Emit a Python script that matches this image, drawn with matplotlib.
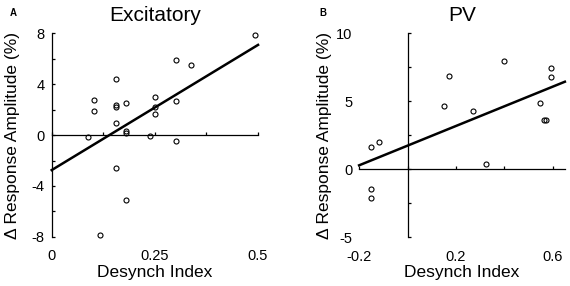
import numpy as np
import matplotlib
matplotlib.use("Agg")
import matplotlib.pyplot as plt

plt.rcParams['font.family'] = ['Liberation Sans', 'DejaVu Sans']

# Excitatory panel
exc_x = [0.493, 0.301, 0.337, 0.155, 0.102, 0.102, 0.155, 0.155, 0.180, 0.251, 0.251,
         0.251, 0.301, 0.155, 0.180, 0.180, 0.087, 0.237, 0.301, 0.155, 0.180, 0.117]
exc_y = [7.9, 5.9, 5.5, 4.4, 2.8, 1.9, 2.4, 2.2, 2.5, 3.0, 2.2,
         1.7, 2.7, 0.97, 0.3, 0.15, -0.13, -0.08, -0.45, -2.6, -5.1, -7.85]
exc_fit_x = [0.0, 0.5]
exc_fit_y = [-2.75, 7.1]

# PV panel
pv_x = [0.399, 0.592, 0.592, 0.170, 0.150, 0.272, 0.546, 0.564, 0.570,
        -0.116, -0.150, 0.326, -0.150, -0.150]
pv_y = [8.0, 7.45, 6.8, 6.85, 4.7, 4.3, 4.9, 3.6, 3.6,
        2.03, 1.64, 0.39, -1.45, -2.1]
pv_fit_x = [-0.2, 0.65]
pv_fit_y = [0.3, 6.45]

fig = plt.figure(figsize=(5.7, 2.86), dpi=100)


def panel(rect, xs, ys, fx, fy, xlim, ylim, xticks, xlabels, yticks_minor, yticks, title, letter, letter_x, ylab_x):
    ax = fig.add_axes(rect)
    ax.plot(xs, ys, 'o', mfc='none', mec='black', ms=3.6, mew=0.8, clip_on=False)
    ax.plot(fx, fy, '-', color='black', lw=1.8, clip_on=False)
    ax.set_xlim(xlim)
    ax.set_ylim(ylim)
    for s in ['top', 'right']:
        ax.spines[s].set_visible(False)
    ax.spines['left'].set_position(('data', 0))
    ax.spines['bottom'].set_position(('data', 0))
    ax.spines['left'].set_linewidth(0.9)
    ax.spines['bottom'].set_linewidth(0.9)
    ax.set_xticks(xticks)
    ax.set_yticks(yticks_minor)
    ax.tick_params(direction='in', length=2.5, width=0.9, labelleft=False, labelbottom=False)
    ax.patch.set_alpha(0)

    # tick labels shown at the outer edges
    sx = ax.secondary_xaxis(0)
    sx.spines['bottom'].set_visible(False)
    sx.set_xticks(xlabels)
    sx.set_xticklabels([('%g' % v) for v in xlabels])
    sx.tick_params(length=0, pad=9, labelsize=10.5)
    sx.set_xlabel('Desynch Index', fontsize=12.5, labelpad=1)

    sy = ax.secondary_yaxis(0)
    sy.spines['left'].set_visible(False)
    sy.set_yticks(yticks)
    sy.set_yticklabels([('%g' % v) for v in yticks])
    sy.tick_params(length=0, pad=5, labelsize=10.5)

    fig.text(ylab_x, rect[1] + rect[3] / 2, 'Δ Response Amplitude (%)', rotation=90,
             ha='center', va='center', fontsize=12.5)
    fig.text(rect[0] + rect[2] / 2, 1 - 21 / 286, title, fontsize=15, ha='center', va='baseline')
    fig.text(letter_x, 1 - 13.5 / 286, letter, fontweight='bold', fontsize=7, ha='center', va='center')
    return ax


panel([0.0907, 0.172, 0.362, 0.711], exc_x, exc_y, exc_fit_x, exc_fit_y,
      (0, 0.5), (-8, 8), np.arange(0, 0.51, 0.125), [0, 0.25, 0.5],
      np.arange(-8, 8.1, 2), [-8, -4, 0, 4, 8], 'Excitatory', 'A', 13.5 / 570, 13 / 570)

panel([0.630, 0.170, 0.361, 0.713], pv_x, pv_y, pv_fit_x, pv_fit_y,
      (-0.2, 0.65), (-5, 10), [-0.2, 0, 0.2, 0.4, 0.6], [-0.2, 0.2, 0.6],
      np.arange(-5, 10.1, 2.5), [-5, 0, 5, 10], 'PV', 'B', 323 / 570, 325 / 570)

fig.savefig('out.png', dpi=100)
